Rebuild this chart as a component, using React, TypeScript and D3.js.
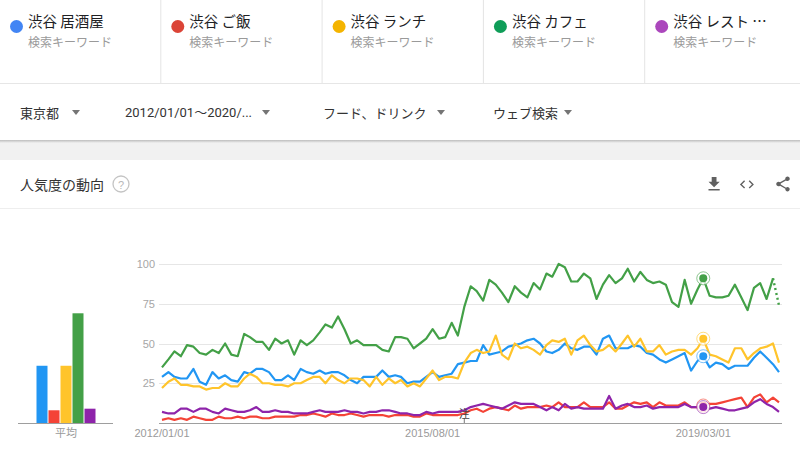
import React from 'react';
import * as d3 from 'd3';

// ---- data ----
const terms = ['渋谷 居酒屋', '渋谷 ご飯', '渋谷 ランチ', '渋谷 カフェ', '渋谷 レスト …'];
const termType = '検索キーワード';
const filters = ['東京都', '2012/01/01～2020/...', 'フード、ドリンク', 'ウェブ検索'];
const chartTitle = '人気度の動向';
const yTicks = [25, 50, 75, 100];
const xTickLabels = ['2012/01/01', '2015/08/01', '2019/03/01'];
const noteLabel = '注';
const noteDate = '2016/01/01';
const startMonth = '2012/01/01';
const averageLabel = '平均';
const averages = [36, 8, 36, 69, 9];
const hoverIndex = 86;

const izakaya = [29,32,29,28,28,34,26,24,32,28, 30,27,26,32,31,34,34,32,27,27,
  30,27,34,32,31,33,31,32,32,30, 27,25,29,29,29,33,29,30,29,25,
  26,26,29,32,29,30,31,37,38,39, 39,49,43,44,45,48,49,50,52,53,
  50,45,44,46,50,47,46,48,48,43, 53,55,47,47,47,49,48,44,43,40,
  38,40,42,44,33,39,42,35,38,37, 34,36,36,36,41,45,41,37,32];
const gohan = [2,3,2,3,2,4,3,2,2,4, 3,3,4,3,4,4,3,3,4,4,
  4,4,5,5,6,5,4,6,5,5, 6,5,4,5,5,5,4,5,5,5,
  4,4,6,5,5,5,5,5,6,8, 9,7,9,10,9,8,11,9,10,10,
  10,11,10,13,10,10,10,13,10,10, 10,13,9,9,11,13,12,13,10,13,
  11,11,11,13,10,10,11,12,12,13, 14,15,16,10,16,18,13,16,13];
const lunch = [22,26,28,24,24,23,23,21,22,22, 25,23,23,28,31,29,25,25,24,24,
  23,25,25,27,29,29,25,30,27,25, 28,28,27,23,29,24,28,25,27,23,
  25,23,28,33,27,29,29,28,38,44, 46,44,45,55,43,40,50,47,48,46,
  43,49,52,51,53,43,52,55,49,45, 46,49,45,50,55,48,53,45,45,49,
  43,45,46,46,43,47,53,43,42,40, 38,47,47,40,44,47,48,50,38];
const cafe = [35,40,45,42,49,48,44,43,46,44, 50,43,42,56,54,51,51,46,53,50,
  52,43,52,49,52,57,62,60,67,59, 50,52,49,49,49,46,45,54,54,53,
  47,50,53,59,53,54,63,55,73,86, 83,77,90,87,82,76,86,82,79,88,
  84,94,92,100,98,89,89,94,91,78, 87,93,88,91,97,89,95,90,88,89,
  87,76,73,90,75,84,91,80,79,79, 80,87,79,71,85,88,78,91,74];
const restaurant = [7,6,6,9,9,7,9,9,7,6, 9,8,7,7,8,10,7,7,8,7,
  7,6,6,6,7,8,7,7,7,8, 7,7,6,7,7,8,8,7,6,6,
  5,5,7,6,7,7,7,7,8,10, 11,12,11,10,9,11,13,12,12,12,
  10,8,10,8,12,9,10,9,9,9, 9,17,9,11,12,10,10,11,9,10,
  10,10,10,12,10,10,10,9,10,9, 8,8,9,10,13,15,12,10,7];

const seriesList = [izakaya, gohan, lunch, cafe, restaurant];
const partialLast = [false, false, false, true, false];

// ---- styles ----
const dotColors = ['#4285F4', '#DB4437', '#F4B400', '#0F9D58', '#AB47BC'];
const lineColors = ['#2196F3', '#F44336', '#FFC42B', '#43A047', '#8E24AA'];
const JP = "'Noto Sans CJK JP', 'Noto Sans', sans-serif";
const NUM = "Arial, 'Liberation Sans', sans-serif";
const filterX = [20, 125, 323, 493];
const caretX = [76, 266, 441, 568];

const parse = d3.timeParse('%Y/%m/%d');
const start = parse(startMonth) as Date;
const months = d3.range(izakaya.length).map((i) => d3.timeMonth.offset(start, i));

const x = d3.scaleTime().domain([months[0], months[months.length - 1]]).range([162, 779]);
const y = d3.scaleLinear().domain([0, 100]).range([423, 264]);
const bx = d3.scaleBand<number>().domain(d3.range(averages.length)).range([36.5, 95.5]).paddingInner(1 / 12);

const line = d3
  .line<number>()
  .x((_, i) => x(months[i]))
  .y((d) => y(d));

function Caret({ cx, cy }: { cx: number; cy: number }) {
  return <path d={`M${cx - 4},${cy - 2}L${cx + 4},${cy - 2}L${cx},${cy + 3}Z`} fill="#757575" />;
}

export default function App() {
  return (
    <div style={{ position: 'absolute', left: 0, top: 0, width: 800, height: 452, overflow: 'hidden' }}>
      <svg width={800} height={452} style={{ display: 'block' }}>
        <defs>
          <linearGradient id="sh" x1="0" x2="0" y1="0" y2="1">
            <stop offset="0" stopColor="#bdbdbd" />
            <stop offset="1" stopColor="#f1f1f1" />
          </linearGradient>
        </defs>
        <rect x={0} y={0} width={800} height={452} fill="#ffffff" />
        {/* header legend */}
        {terms.map((t, i) => {
          const x0 = i * 161.3;
          return (
            <g key={t}>
              {i > 0 && <line x1={x0 - 0.5} x2={x0 - 0.5} y1={0} y2={83} stroke="#e4e4e4" />}
              <circle cx={x0 + 16.5} cy={26.5} r={6.5} fill={dotColors[i]} />
              <text x={x0 + 28} y={20} dominantBaseline="central" fontFamily={JP} fontSize={14.5} fill="#202124">
                {t}
              </text>
              <text x={x0 + 28} y={41} dominantBaseline="central" fontFamily={JP} fontSize={12} fill="#9a9a9a">
                {termType}
              </text>
            </g>
          );
        })}
        <line x1={0} x2={800} y1={83.5} y2={83.5} stroke="#e6e6e6" />
        {/* filter bar */}
        {filters.map((f, i) => (
          <g key={f}>
            <text x={filterX[i]} y={112} dominantBaseline="central" fontFamily={i === 1 ? `Roboto, ${JP}` : JP} fontSize={13} fill="#333">
              {f}
            </text>
            <Caret cx={caretX[i]} cy={112} />
          </g>
        ))}
        <rect x={0} y={140} width={800} height={20} fill="#f1f1f1" />
        <rect x={0} y={140} width={800} height={3} fill="url(#sh)" />
        {/* card */}
        <rect x={0} y={160} width={800} height={292} fill="#ffffff" />
        <text x={20} y={184} dominantBaseline="central" fontFamily={JP} fontSize={14} fill="#333">
          {chartTitle}
        </text>
        <circle cx={121} cy={184} r={8} fill="none" stroke="#c4c4c4" strokeWidth={1.3} />
        <text x={121} y={184.5} textAnchor="middle" dominantBaseline="central" fontFamily={NUM} fontSize={11} fill="#b8b8b8">
          ?
        </text>
        <g transform="translate(704.5,174.5) scale(0.8)" fill="#616161">
          <path d="M19 9h-4V3H9v6H5l7 7 7-7zM5 18v2h14v-2H5z" />
        </g>
        <g transform="translate(738.5,176) scale(0.7)" fill="#616161">
          <path d="M9.4 16.6L4.8 12l4.6-4.6L8 6l-6 6 6 6 1.4-1.4zm5.2 0l4.6-4.6-4.6-4.6L16 6l6 6-6 6-1.4-1.4z" />
        </g>
        <g transform="translate(774,175) scale(0.75)" fill="#616161">
          <path d="M18 16.08c-.76 0-1.44.3-1.96.77L8.91 12.7c.05-.23.09-.46.09-.7s-.04-.47-.09-.7l7.05-4.11c.54.5 1.250.81 2.04.81 1.66 0 3-1.34 3-3s-1.34-3-3-3-3 1.34-3 3c0 .24.04.47.09.7L8.04 9.81C7.5 9.31 6.79 9 6 9c-1.66 0-3 1.34-3 3s1.34 3 3 3c.79 0 1.5-.31 2.04-.81l7.12 4.16c-.05.21-.08.43-.08.65 0 1.61 1.31 2.92 2.92 2.92 1.61 0 2.92-1.31 2.92-2.92s-1.31-2.92-2.92-2.92z" />
        </g>
        <line x1={0} x2={800} y1={208.5} y2={208.5} stroke="#eeeeee" />

        {/* average bars */}
        {averages.map((v, i) => (
          <rect key={i} x={bx(i)} y={y(v)} width={bx.bandwidth()} height={y(0) - y(v)} fill={lineColors[i]} />
        ))}
        <line x1={18} x2={113} y1={y(0) + 0.5} y2={y(0) + 0.5} stroke="#9e9e9e" />
        <text x={66} y={432} textAnchor="middle" dominantBaseline="central" fontFamily={JP} fontSize={11} fill="#9a9a9a">
          {averageLabel}
        </text>

        {/* grid */}
        {yTicks.map((t) => (
          <g key={t}>
            <line x1={159} x2={782} y1={Math.round(y(t)) + 0.5} y2={Math.round(y(t)) + 0.5} stroke="#e6e6e6" />
            <text x={155} y={y(t)} textAnchor="end" dominantBaseline="central" fontFamily={NUM} fontSize={11} fill="#a6a6a6">
              {t}
            </text>
          </g>
        ))}
        <line x1={159} x2={782} y1={y(0) + 0.5} y2={y(0) + 0.5} stroke="#9e9e9e" />
        {xTickLabels.map((l) => (
          <text key={l} x={x(parse(l) as Date)} y={433} textAnchor="middle" dominantBaseline="central" fontFamily={NUM} fontSize={11} fill="#9a9a9a">
            {l}
          </text>
        ))}

        {/* lines */}
        {seriesList.map((s, k) => {
          const n = s.length;
          const solid = partialLast[k] ? s.slice(0, n - 1) : s;
          return (
            <g key={k}>
              <path d={line(solid) || ''} fill="none" stroke={lineColors[k]} strokeWidth={2.2} strokeLinejoin="round" />
              {partialLast[k] && (
                <path
                  d={`M${x(months[n - 2])},${y(s[n - 2])}L${x(months[n - 1])},${y(s[n - 1])}`}
                  fill="none"
                  stroke={lineColors[k]}
                  strokeWidth={2.4}
                  strokeDasharray="2,3"
                />
              )}
            </g>
          );
        })}

        {/* note */}
        <line x1={x(parse(noteDate) as Date)} x2={x(parse(noteDate) as Date)} y1={418} y2={423} stroke="#777" />
        <text x={x(parse(noteDate) as Date)} y={412.5} textAnchor="middle" dominantBaseline="central" fontFamily={JP} fontSize={11} fill="#444">
          {noteLabel}
        </text>

        {/* hover markers */}
        {seriesList.map((s, k) => (
          <g key={k}>
            <circle cx={x(months[hoverIndex])} cy={y(s[hoverIndex])} r={6.5} fill="#ffffff" fillOpacity={0.7} stroke={lineColors[k]} strokeOpacity={0.6} strokeWidth={1} />
            <circle cx={x(months[hoverIndex])} cy={y(s[hoverIndex])} r={4} fill={lineColors[k]} />
          </g>
        ))}
      </svg>
    </div>
  );
}
